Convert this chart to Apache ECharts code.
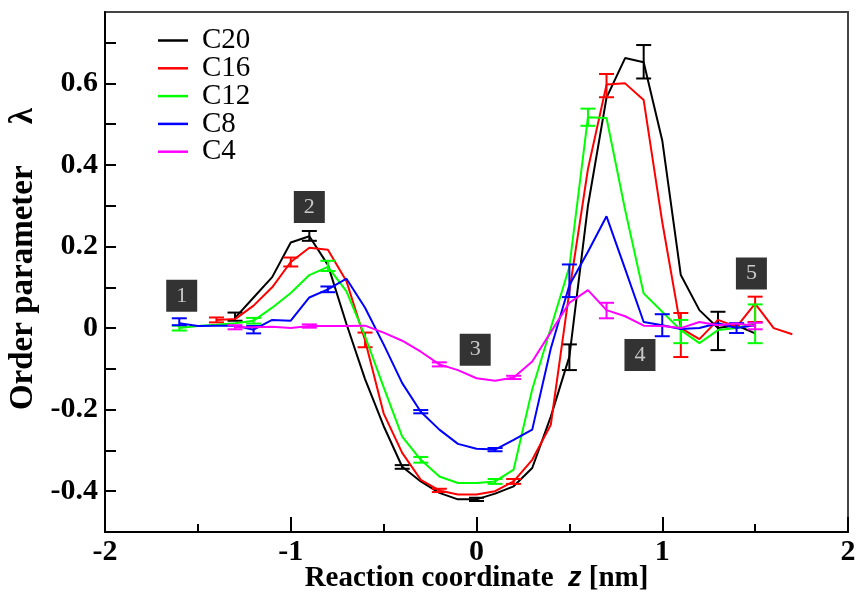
<!DOCTYPE html>
<html>
<head>
<meta charset="utf-8">
<script src="https://cdn.jsdelivr.net/npm/echarts@6/dist/echarts.min.js"></script>
<style>html,body{margin:0;padding:0;background:#fff;}#c{width:857px;height:592px;}</style>
</head>
<body>
<div id="c"></div>
<script>
// ---- data ----
var seriesNames = ['C20', 'C16', 'C12', 'C8', 'C4'];
var seriesColors = ['#000000', '#ff0000', '#00ff00', '#0000ff', '#ff00ff'];

var xC20 = [-1.3,-1.2,-1.1,-1.0,-0.9,-0.8,-0.7,-0.6,-0.5,-0.4,-0.3,-0.2,-0.1,0.0,0.1,0.2,0.3,0.4,0.5,0.6,0.7,0.8,0.9,1.0,1.1,1.2,1.3,1.4,1.5];
var yC20 = [0.025,0.075,0.125,0.21,0.225,0.155,0.01,-0.125,-0.24,-0.34,-0.376,-0.404,-0.42,-0.42,-0.406,-0.388,-0.343,-0.217,-0.07,0.3,0.565,0.662,0.652,0.46,0.13,0.044,0.0,0.007,-0.013];

var xC16 = [-1.4,-1.3,-1.2,-1.1,-1.0,-0.9,-0.8,-0.7,-0.6,-0.5,-0.4,-0.3,-0.2,-0.1,0.0,0.1,0.2,0.3,0.4,0.5,0.6,0.7,0.8,0.9,1.0,1.1,1.2,1.3,1.4,1.5,1.6,1.7];
var yC16 = [0.02,0.022,0.055,0.10,0.162,0.197,0.192,0.115,-0.03,-0.209,-0.306,-0.372,-0.398,-0.408,-0.408,-0.4,-0.376,-0.323,-0.237,0.09,0.39,0.597,0.6,0.559,0.26,0.0,-0.027,0.02,0.003,0.06,0.0,-0.015];

var xC12 = [-1.6,-1.5,-1.4,-1.3,-1.2,-1.1,-1.0,-0.9,-0.8,-0.7,-0.6,-0.5,-0.4,-0.3,-0.2,-0.1,0.0,0.1,0.2,0.3,0.4,0.5,0.6,0.7,0.8,0.9,1.0,1.1,1.2,1.3,1.4,1.5];
var yC12 = [0.0,0.005,0.008,0.012,0.018,0.05,0.086,0.13,0.15,0.09,-0.02,-0.145,-0.266,-0.323,-0.364,-0.38,-0.38,-0.376,-0.347,-0.15,0.0,0.15,0.517,0.515,0.29,0.085,0.04,-0.005,-0.037,-0.005,0.0,0.011];

var xC8 = [-1.6,-1.5,-1.4,-1.3,-1.2,-1.1,-1.0,-0.9,-0.8,-0.7,-0.6,-0.5,-0.4,-0.3,-0.2,-0.1,0.0,0.1,0.2,0.3,0.4,0.5,0.6,0.7,0.8,0.9,1.0,1.1,1.2,1.3,1.4,1.5];
var yC8 = [0.012,0.005,0.006,0.006,-0.004,0.02,0.018,0.075,0.095,0.121,0.05,-0.04,-0.135,-0.205,-0.249,-0.284,-0.296,-0.298,-0.274,-0.249,-0.05,0.105,0.187,0.274,0.145,0.015,0.007,-0.002,0.0,0.012,0.0,0.007];

var xC4 = [-1.3,-1.2,-1.1,-1.0,-0.9,-0.8,-0.7,-0.6,-0.5,-0.4,-0.3,-0.2,-0.1,0.0,0.1,0.2,0.3,0.4,0.5,0.6,0.7,0.8,0.9,1.0,1.1,1.2,1.3,1.4,1.5];
var yC4 = [0.002,0.002,0.003,0.0,0.005,0.005,0.005,0.006,-0.011,-0.031,-0.058,-0.089,-0.103,-0.123,-0.129,-0.121,-0.082,-0.01,0.062,0.093,0.044,0.029,0.006,0.005,0.0,0.015,0.007,0.011,0.005];

// error bars: [x, low, high]
var errC20 = [[-1.3,0.018,0.038],[-0.9,0.214,0.238],[-0.4,-0.345,-0.336],[0.0,-0.424,-0.416],[0.5,-0.103,-0.04],[0.9,0.612,0.694],[1.3,-0.054,0.04]];
var errC16 = [[-1.4,0.014,0.026],[-1.0,0.151,0.173],[-0.6,-0.047,-0.011],[-0.2,-0.402,-0.394],[0.2,-0.382,-0.370],[0.7,0.566,0.623],[1.1,-0.071,0.037],[1.5,0.015,0.077]];
var errC12 = [[-1.6,-0.006,0.006],[-1.2,0.011,0.025],[-0.8,0.140,0.165],[-0.3,-0.33,-0.316],[0.1,-0.382,-0.37],[0.6,0.496,0.538],[1.1,-0.037,0.02],[1.5,-0.037,0.058]];
var errC8 = [[-1.6,0.007,0.024],[-1.2,-0.013,0.005],[-0.8,0.088,0.102],[-0.3,-0.209,-0.201],[0.1,-0.302,-0.294],[0.5,0.076,0.156],[1.0,-0.02,0.034],[1.4,-0.012,0.012]];
var errC4 = [[-1.3,-0.003,0.007],[-0.9,0.001,0.009],[-0.2,-0.094,-0.084],[0.2,-0.125,-0.117],[0.7,0.024,0.062],[1.5,-0.003,0.013]];

// numbered annotation boxes: [x, y, text]
var boxLabels = [[-1.587,0.079,'1'],[-0.9,0.297,'2'],[-0.007,-0.053,'3'],[0.88,-0.066,'4'],[1.48,0.134,'5']];

// ---- build ----
var xsAll = [xC20, xC16, xC12, xC8, xC4];
var ysAll = [yC20, yC16, yC12, yC8, yC4];
var errAll = [errC20, errC16, errC12, errC8, errC4];

function zip(xs, ys) { return xs.map(function (x, i) { return [x, ys[i]]; }); }

var serif = '"Liberation Serif", "Times New Roman", serif';
var series = [];
seriesNames.forEach(function (name, i) {
  series.push({
    name: name, type: 'line', data: zip(xsAll[i], ysAll[i]),
    showSymbol: false, symbol: 'none', z: 2 + i,
    lineStyle: { color: seriesColors[i], width: 2 },
    itemStyle: { color: seriesColors[i] },
    animation: false
  });
});
seriesNames.forEach(function (name, i) {
  var col = seriesColors[i];
  series.push({
    type: 'custom', z: 2 + i, animation: false,
    data: errAll[i],
    renderItem: function (params, api) {
      var lo = api.coord([api.value(0), api.value(1)]);
      var hi = api.coord([api.value(0), api.value(2)]);
      var w = 7.5;
      var st = { stroke: col, lineWidth: 2 };
      return { type: 'group', children: [
        { type: 'line', shape: { x1: lo[0], y1: lo[1], x2: hi[0], y2: hi[1] }, style: st },
        { type: 'line', shape: { x1: lo[0] - w, y1: lo[1], x2: lo[0] + w, y2: lo[1] }, style: st },
        { type: 'line', shape: { x1: hi[0] - w, y1: hi[1], x2: hi[0] + w, y2: hi[1] }, style: st }
      ] };
    }
  });
});
series.push({
  type: 'scatter', z: 20, animation: false,
  data: boxLabels.map(function (b) { return { value: [b[0], b[1]], name: b[2] }; }),
  symbol: 'rect', symbolSize: [31, 32],
  itemStyle: { color: '#000' },
  label: { show: true, position: 'inside', formatter: '{b}', color: '#eee', fontFamily: serif, fontSize: 22 }
});

var chart = echarts.init(document.getElementById('c'), null, { renderer: 'canvas' });
chart.setOption({
  animation: false,
  backgroundColor: '#fff',
  grid: { left: 105, right: 9, top: 12, bottom: 60, show: true, borderColor: '#444', borderWidth: 2,
          containLabel: false, outerBoundsMode: 'none' },
  legend: {
    data: seriesNames, orient: 'vertical', left: 158, top: 26, padding: 0,
    icon: 'rect', itemWidth: 30, itemHeight: 2.5, itemGap: -1.2,
    textStyle: { fontFamily: serif, fontSize: 29, color: '#000', padding: [0, 0, 0, 9] }
  },
  xAxis: {
    type: 'value', min: -2, max: 2, interval: 1,
    name: 'Reaction coordinate  {z|z} [nm]', nameLocation: 'middle', nameGap: 32, nameMoveOverlap: false,
    nameTextStyle: { fontFamily: serif, fontWeight: 'bold', fontSize: 29, color: '#000',
      rich: { z: { fontFamily: '"Liberation Sans", Arial, sans-serif', fontWeight: 'bold', fontStyle: 'italic', fontSize: 27, color: '#000' } } },
    axisLine: { onZero: false, lineStyle: { color: '#000', width: 2 } },
    axisTick: { inside: true, length: 15, lineStyle: { color: '#000', width: 2 } },
    minorTick: { show: true, splitNumber: 2, length: 8, lineStyle: { color: '#000', width: 2 } },
    splitLine: { show: false },
    axisLabel: { fontFamily: serif, fontWeight: 'bold', fontSize: 30, color: '#000', margin: 5 }
  },
  yAxis: {
    type: 'value', min: -0.5, max: 0.775, interval: 0.1,
    name: 'Order parameter     λ', nameLocation: 'middle', nameGap: 58,
    nameTextStyle: { fontFamily: serif, fontWeight: 'bold', fontSize: 33, color: '#000', padding: [0, 0, 0, 26] },
    axisLine: { onZero: false, lineStyle: { color: '#000', width: 2 } },
    axisTick: { inside: true, length: 11, lineStyle: { color: '#000', width: 2 } },
    splitLine: { show: false },
    axisLabel: {
      fontFamily: serif, fontWeight: 'bold', fontSize: 30, color: '#000', margin: 7,
      showMaxLabel: false, showMinLabel: false,
      formatter: function (v) {
        var k = Math.round(v * 10);
        if (k % 2 !== 0) return '';
        if (k === 0) return '0';
        return (k / 10).toFixed(1);
      }
    }
  },
  series: series
});
</script>
</body>
</html>
